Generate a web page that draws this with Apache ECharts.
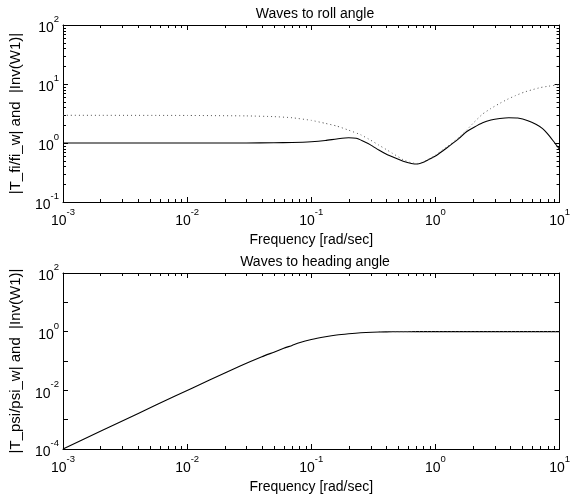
<!DOCTYPE html>
<html>
<head>
<meta charset="utf-8">
<title>Waves to roll / heading angle</title>
<script src="https://cdn.jsdelivr.net/npm/echarts@6/dist/echarts.min.js"></script>
<style>
    html, body { margin: 0; padding: 0; background: #fff; }
    #chart { width: 573px; height: 497px; }
</style>
</head>
<body>
<div id="chart"></div>
<script>
// Waves to roll angle: solid |T_fi/fi_w|, dotted |Inv(W1)|
var rollFreq = [0.001, 0.01, 0.03, 0.05, 0.07, 0.1, 0.13, 0.16, 0.2, 0.23, 0.26, 0.3, 0.35,
    0.4, 0.47, 0.55, 0.64, 0.72, 0.8, 0.87, 1.0, 1.15, 1.32, 1.55, 1.78, 2.05, 2.4, 2.8,
    3.3, 3.9, 4.6, 5.56, 6.5, 7.3, 7.95, 9.0, 10];
var rollT = [1.0, 1.0, 1.0, 1.01, 1.02, 1.05, 1.1, 1.17, 1.23, 1.2, 1.08, 0.93, 0.76,
    0.65, 0.56, 0.49, 0.45, 0.44, 0.47, 0.515, 0.6, 0.74, 0.92, 1.2, 1.55, 1.85, 2.2, 2.45,
    2.6, 2.68, 2.65, 2.39, 2.05, 1.75, 1.46, 1.05, 0.78];

var rollWFreq = [0.001, 0.01, 0.03, 0.05, 0.07, 0.1, 0.13, 0.16, 0.2, 0.25, 0.3, 0.35, 0.4,
    0.45, 0.55, 0.64, 0.72, 0.8, 0.9, 1.0, 1.15, 1.32, 1.55, 1.78, 2.05, 2.4, 2.8, 3.24,
    3.8, 4.37, 5.2, 5.9, 7.0, 8.2, 10];
var rollInvW1 = [2.95, 2.93, 2.88, 2.8, 2.68, 2.42, 2.15, 1.94, 1.65, 1.38, 1.12, 0.92, 0.78,
    0.67, 0.52, 0.46, 0.45, 0.48, 0.54, 0.62, 0.77, 0.95, 1.25, 1.65, 2.25, 3.1, 3.85, 4.6,
    5.5, 6.3, 7.3, 7.9, 8.7, 9.2, 9.7];

// Waves to heading angle: solid |T_psi/psi_w|, dotted |Inv(W1)|
var headFreq = [0.001, 0.002, 0.004, 0.008, 0.015, 0.027, 0.04, 0.05, 0.06, 0.07, 0.08,
    0.1, 0.13, 0.16, 0.2, 0.25, 0.31, 0.4, 0.5, 0.7, 1.0, 10];
var headT = [0.0001, 0.0004, 0.0016, 0.0064, 0.022, 0.069, 0.14, 0.2, 0.27, 0.34, 0.42,
    0.54, 0.67, 0.77, 0.85, 0.92, 0.96, 0.985, 0.995, 1.0, 1.0, 1.0];

var headWFreq = [0.35, 1.0, 10];
var headInvW1 = [1.0, 1.0, 1.0];

// axis ranges and log tick layout
var freqRange = [0.001, 10];
var rollRange = [0.1, 100];
var headRange = [0.0001, 100];
var minorMantissa = [2, 3, 4, 5, 6, 7, 8, 9];
var freqDecades = [-3, -2, -1, 0];
var rollDecades = [-1, 0, 1];

(function () {
    'use strict';

    var FONT = '"Liberation Sans", Arial, Helvetica, sans-serif';
    var INK = '#000';

    var rich = {
        b: { fontSize: 14, fontFamily: FONT, color: INK, padding: [7, 0, 0, 0] },
        e: { fontSize: 9.5, fontFamily: FONT, color: INK, verticalAlign: 'top' }
    };

    function exponent(v) {
        return Math.round(Math.log(v) / Math.LN10);
    }

    function powLabel(v) {
        return '{b|10}{e|' + exponent(v) + '}';
    }

    //only every other decade is labelled on the heading plot
    function evenPowLabel(v) {
        var e = exponent(v);
        return e % 2 === 0 ? powLabel(v) : '';
    }

    function pairs(xs, ys) {
        return xs.map(function (x, i) {
            return [x, ys[i]];
        });
    }

    function minorValues(decades) {
        var out = [];
        decades.forEach(function (d) {
            minorMantissa.forEach(function (m) {
                out.push(m * Math.pow(10, d));
            });
        });
        return out;
    }

    function logAxis(grid, pos, range, label, name, nameGap, nameSize) {
        var axis = {
            type: 'log',
            logBase: 10,
            gridIndex: grid,
            position: pos,
            min: range[0],
            max: range[1],
            axisLine: { show: true, onZero: false, lineStyle: { color: INK, width: 1 } },
            axisTick: { show: true, inside: true, length: 5, lineStyle: { color: INK, width: 1 } },
            minorTick: { show: false },
            splitLine: { show: false },
            axisLabel: label ? {
                show: true,
                formatter: label,
                rich: rich,
                hideOverlap: false,
                margin: pos === 'left' ? 4 : 5
            } : { show: false }
        };
        if (name) {
            axis.name = name;
            axis.nameLocation = 'middle';
            axis.nameGap = nameGap;
            axis.nameTextStyle = { fontSize: nameSize, fontFamily: FONT, color: INK };
        }
        return axis;
    }

    function xMinorTick(params, api) {
        var v = api.value(0);
        var lo = api.coord([v, api.value(1)]);
        var hi = api.coord([v, api.value(2)]);
        var x = Math.round(lo[0]) + 0.5;
        var st = { stroke: INK, lineWidth: 1 };
        return {
            type: 'group',
            children: [
                { type: 'line', shape: { x1: x, y1: lo[1], x2: x, y2: lo[1] - 3 }, style: st },
                { type: 'line', shape: { x1: x, y1: hi[1], x2: x, y2: hi[1] + 3 }, style: st }
            ]
        };
    }

    function yMinorTick(params, api) {
        var v = api.value(2);
        var lo = api.coord([api.value(0), v]);
        var hi = api.coord([api.value(1), v]);
        var y = Math.round(lo[1]) + 0.5;
        var st = { stroke: INK, lineWidth: 1 };
        return {
            type: 'group',
            children: [
                { type: 'line', shape: { x1: lo[0], y1: y, x2: lo[0] + 3, y2: y }, style: st },
                { type: 'line', shape: { x1: hi[0], y1: y, x2: hi[0] - 3, y2: y }, style: st }
            ]
        };
    }

    function minorSeries(axisIdx, data, render, encode) {
        return {
            type: 'custom',
            xAxisIndex: axisIdx,
            yAxisIndex: axisIdx,
            silent: true,
            animation: false,
            clip: false,
            data: data,
            encode: encode,
            renderItem: render
        };
    }

    function curve(axisIdx, data, dotted) {
        return {
            type: 'line',
            xAxisIndex: axisIdx,
            yAxisIndex: axisIdx,
            data: data,
            symbol: 'none',
            silent: true,
            animation: false,
            smooth: dotted ? 0.15 : 0.2,
            lineStyle: dotted ?
                { color: '#555', width: 1, type: [1, 3] } :
                { color: INK, width: 1.1 }
        };
    }

    var xMinor = minorValues(freqDecades);
    var rollMinor = minorValues(rollDecades);
    var titleStyle = { fontSize: 14, fontWeight: 'normal', fontFamily: FONT, color: INK };

    var option = {
        backgroundColor: '#fff',
        animation: false,
        textStyle: { fontFamily: FONT },
        title: [
            { text: 'Waves to roll angle', left: 310, top: 2, textAlign: 'center', textStyle: titleStyle },
            { text: 'Waves to heading angle', left: 310, top: 250, textAlign: 'center', textStyle: titleStyle }
        ],
        grid: [
            { left: 54, top: 25, width: 512, height: 177 },
            { left: 54, top: 273, width: 512, height: 176 }
        ],
        xAxis: [
            logAxis(0, 'bottom', freqRange, powLabel, 'Frequency [rad/sec]', 31, 14),
            logAxis(0, 'top', freqRange),
            logAxis(1, 'bottom', freqRange, powLabel, 'Frequency [rad/sec]', 31, 14),
            logAxis(1, 'top', freqRange)
        ],
        yAxis: [
            logAxis(0, 'left', rollRange, powLabel, '|T_fi/fi_w| and  |Inv(W1)|', 40, 15),
            logAxis(0, 'right', rollRange),
            logAxis(1, 'left', headRange, evenPowLabel, '|T_psi/psi_w| and  |Inv(W1)|', 40, 15),
            logAxis(1, 'right', headRange)
        ],
        series: [
            minorSeries(0, xMinor.map(function (v) {
                return [v, rollRange[0], rollRange[1]];
            }), xMinorTick, { x: 0, y: [1, 2] }),
            minorSeries(0, rollMinor.map(function (v) {
                return [freqRange[0], freqRange[1], v];
            }), yMinorTick, { x: [0, 1], y: 2 }),
            minorSeries(2, xMinor.map(function (v) {
                return [v, headRange[0], headRange[1]];
            }), xMinorTick, { x: 0, y: [1, 2] }),
            curve(0, pairs(rollFreq, rollT), false),
            curve(0, pairs(rollWFreq, rollInvW1), true),
            curve(2, pairs(headFreq, headT), false),
            curve(2, pairs(headWFreq, headInvW1), true)
        ]
    };

    var chart = echarts.init(document.getElementById('chart'), null, { renderer: 'canvas' });
    chart.setOption(option);
})();
</script>
</body>
</html>
